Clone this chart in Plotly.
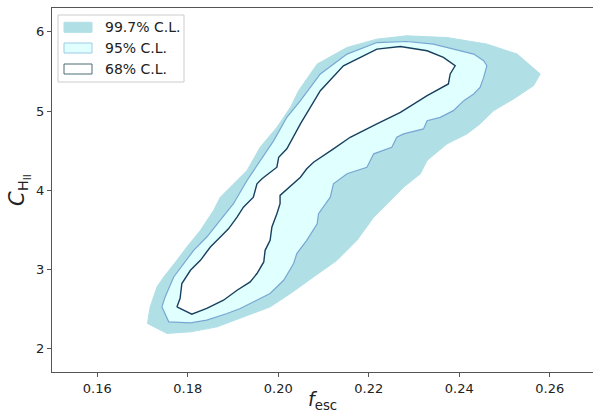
import plotly.graph_objects as go

# 99.7% C.L. region (f_esc, C_HII)
cl997_x = [0.1711, 0.1717, 0.1732, 0.1747, 0.1776, 0.1798, 0.1828, 0.1857, 0.1872, 0.1894,
           0.1931, 0.1960, 0.1997, 0.2027, 0.2045, 0.2086, 0.2152, 0.2218, 0.2284, 0.2373,
           0.2461, 0.2528, 0.2579, 0.2564, 0.2520, 0.2476, 0.2446, 0.2417, 0.2373, 0.2329,
           0.2314, 0.2277, 0.2248, 0.2211, 0.2174, 0.2130, 0.2078, 0.2027, 0.1982, 0.1916,
           0.1865, 0.1806, 0.1754]
cl997_y = [2.320, 2.529, 2.781, 2.907, 3.117, 3.285, 3.495, 3.747, 3.914, 4.040,
           4.251, 4.544, 4.796, 5.048, 5.258, 5.594, 5.804, 5.909, 5.951, 5.929,
           5.846, 5.720, 5.469, 5.321, 5.154, 5.006, 4.839, 4.713, 4.587, 4.377,
           4.209, 4.040, 3.873, 3.662, 3.369, 3.117, 2.907, 2.698, 2.529, 2.383,
           2.277, 2.214, 2.194]

# 95% C.L. region
cl95_x = [0.1743, 0.1750, 0.1769, 0.1791, 0.1813, 0.1842, 0.1872, 0.1901, 0.1931, 0.1956,
          0.1990, 0.2019, 0.2049, 0.2093, 0.2152, 0.2218, 0.2284, 0.2343, 0.2387, 0.2432,
          0.2454, 0.2461, 0.2454, 0.2446, 0.2432, 0.2410, 0.2387, 0.2358, 0.2329, 0.2321,
          0.2277, 0.2262, 0.2251, 0.2211, 0.2196, 0.2152, 0.2122, 0.2115, 0.2089, 0.2086,
          0.2063, 0.2041, 0.2034, 0.2012, 0.1982, 0.1953, 0.1916, 0.1887, 0.1842, 0.1806,
          0.1758]
cl95_y = [2.529, 2.655, 2.907, 3.076, 3.243, 3.411, 3.621, 3.831, 4.125, 4.335,
          4.628, 4.922, 5.132, 5.469, 5.720, 5.866, 5.879, 5.846, 5.783, 5.720,
          5.636, 5.573, 5.426, 5.300, 5.217, 5.132, 5.006, 4.922, 4.880, 4.776,
          4.713, 4.670, 4.544, 4.461, 4.292, 4.209, 4.083, 3.914, 3.705, 3.579,
          3.369, 3.202, 3.076, 2.865, 2.698, 2.613, 2.509, 2.446, 2.361, 2.327,
          2.340]

# 68% C.L. region
cl68_x = [0.1776, 0.1783, 0.1787, 0.1806, 0.1828, 0.1850, 0.1872, 0.1890, 0.1909, 0.1923,
          0.1945, 0.1953, 0.1964, 0.1997, 0.2001, 0.2019, 0.2049, 0.2071, 0.2093, 0.2144,
          0.2218, 0.2270, 0.2329, 0.2365, 0.2391, 0.2380, 0.2376, 0.2329, 0.2270, 0.2218,
          0.2159, 0.2122, 0.2078, 0.2063, 0.2049, 0.2004, 0.2004, 0.1997, 0.1986, 0.1982,
          0.1971, 0.1968, 0.1953, 0.1938, 0.1909, 0.1879, 0.1842, 0.1809]
cl68_y = [2.529, 2.635, 2.824, 2.991, 3.117, 3.285, 3.411, 3.514, 3.662, 3.788,
          3.914, 4.083, 4.146, 4.292, 4.418, 4.524, 4.839, 5.048, 5.258, 5.573,
          5.783, 5.816, 5.762, 5.678, 5.573, 5.469, 5.343, 5.195, 4.985, 4.839,
          4.670, 4.524, 4.355, 4.272, 4.166, 3.936, 3.831, 3.705, 3.537, 3.369,
          3.243, 3.096, 2.950, 2.844, 2.739, 2.613, 2.509, 2.437]

labels = ["99.7% C.L.", "95% C.L.", "68% C.L."]
x_ticks = [0.16, 0.18, 0.20, 0.22, 0.24, 0.26]
y_ticks = [2, 3, 4, 5, 6]
x_title = "<i>f</i><sub>esc</sub>"
y_title = "<i>C</i><sub>H<sub>II</sub></sub>"

FONT = "DejaVu Sans"
W, H = 593, 415
ML, MR, MT, MB = 52, 0, 8, 43
PW, PH = W - ML - MR, H - MT - MB

def px_x(p):
    return (p - ML) / PW

def px_y(p):
    return (H - MB - p) / PH

fills = ["#b0e0e6", "#e0ffff", "#ffffff"]
edges = ["#b0e0e6", "#78a6d2", "#17405e"]
legend_edges = ["#b0e0e6", "#9ccbe6", "#4a6b72"]
widths = [1, 1.2, 1.4]
series = [(cl997_x, cl997_y), (cl95_x, cl95_y), (cl68_x, cl68_y)]

fig = go.Figure()
for (sx, sy), fc, ec, lw, name in zip(series, fills, edges, widths, labels):
    fig.add_trace(go.Scatter(x=sx + sx[:1], y=sy + sy[:1], mode="lines",
                             fill="toself", fillcolor=fc,
                             line=dict(color=ec, width=lw), name=name,
                             showlegend=False, hoverinfo="skip"))

# matplotlib-like legend drawn with shapes and annotations
shapes = [dict(type="rect", xref="paper", yref="paper",
               x0=px_x(58), x1=px_x(184), y0=px_y(82), y1=px_y(15),
               fillcolor="rgba(255,255,255,0.8)", line=dict(color="#cccccc", width=1),
               layer="above")]
annotations = []
row_centers = [27.3, 48.0, 69.0]
for yc, fc, ec, name in zip(row_centers, fills, legend_edges, labels):
    shapes.append(dict(type="rect", xref="paper", yref="paper",
                       x0=px_x(64), x1=px_x(92), y0=px_y(yc + 5), y1=px_y(yc - 5),
                       fillcolor=fc, line=dict(color=ec, width=1), layer="above"))
    annotations.append(dict(text=name, xref="paper", yref="paper",
                            x=px_x(103), y=px_y(yc), xanchor="left", yanchor="middle",
                            showarrow=False,
                            font=dict(family=FONT, size=14, color="#222222")))

annotations += [
    dict(text=x_title, xref="paper", yref="paper", x=0.5, y=0,
         xanchor="center", yanchor="middle", yshift=-28, showarrow=False,
         font=dict(family=FONT, size=19, color="#222222")),
    dict(text=y_title, xref="paper", yref="paper", x=0, y=0.5,
         xanchor="center", yanchor="middle", xshift=-33, textangle=-90, showarrow=False,
         font=dict(family=FONT, size=21, color="#222222")),
]

fig.update_layout(
    width=W, height=H,
    margin=dict(l=ML, r=MR, t=MT, b=MB, autoexpand=False),
    paper_bgcolor="white", plot_bgcolor="white",
    font=dict(family=FONT, color="#222222", size=13),
    showlegend=False,
    shapes=shapes,
    annotations=annotations,
)
fig.update_xaxes(range=[0.15, 0.26956], tickvals=x_ticks,
                 ticktext=[f"{v:.2f}" for v in x_ticks],
                 showline=True, linecolor="#555555", linewidth=1, mirror=True,
                 ticks="outside", ticklen=4, tickcolor="#555555",
                 showgrid=False, zeroline=False, automargin=False,
                 tickfont=dict(size=13))
fig.update_yaxes(range=[1.707, 6.302], tickvals=y_ticks,
                 showline=True, linecolor="#555555", linewidth=1,
                 ticks="outside", ticklen=4, tickcolor="#555555",
                 showgrid=False, zeroline=False, automargin=False,
                 tickfont=dict(size=13))

fig.write_html("out.html", config={"displayModeBar": False},
               post_script="document.body.style.margin='0';document.body.style.padding='0';")
